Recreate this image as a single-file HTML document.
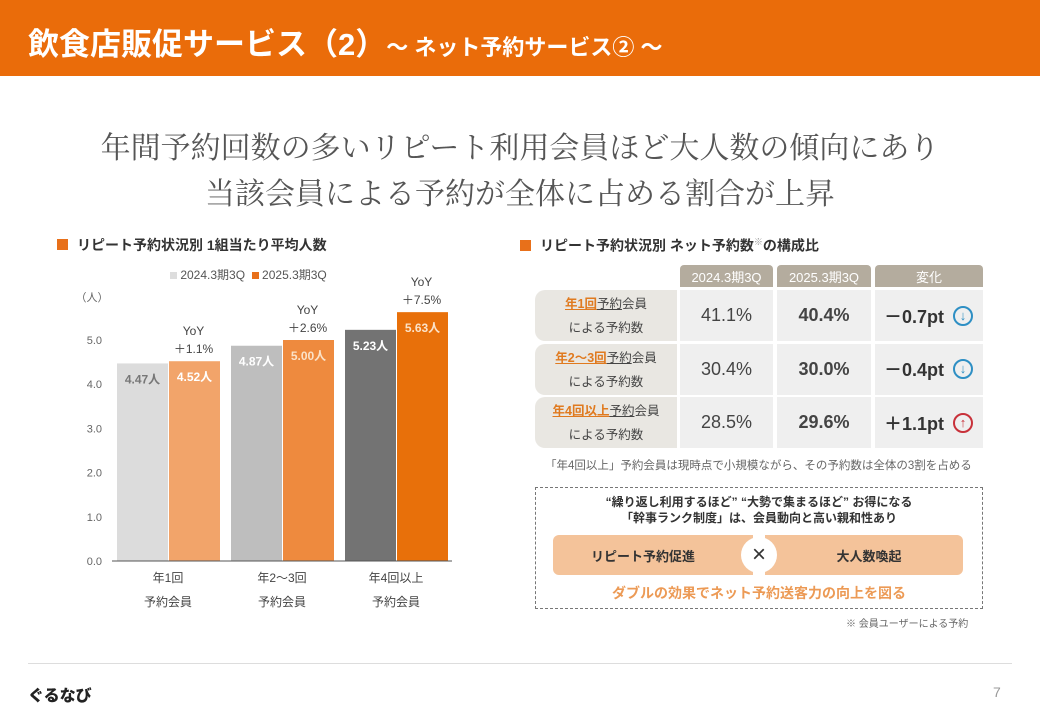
<!DOCTYPE html>
<html><head><meta charset="utf-8">
<style>
*{margin:0;padding:0;box-sizing:border-box}
body{width:1040px;height:720px;overflow:hidden;background:#fff;font-family:"Liberation Sans","Noto Sans CJK JP",sans-serif;position:relative;color:#333}
.a{position:absolute}
.hdr{left:0;top:0;width:1040px;height:76px;background:#EA6C0A}
.cell{position:absolute;background:#EFEFEF;display:flex;align-items:center;justify-content:center;font-size:18px;color:#444}
.th{position:absolute;background:#B4AC9E;color:#fff;font-size:13px;display:flex;align-items:center;justify-content:center;border-radius:4px 4px 0 0}
.lbl{position:absolute;background:#E9E7E2;border-radius:10px 0 0 10px;font-size:12.5px;text-align:center;line-height:24px;color:#444;padding-top:2px}
.lbl u{color:#E07A1F;font-weight:bold}
.lbl b{text-decoration:underline;font-weight:normal}
</style></head><body>
<div class="a hdr"></div>
<div class="a" style="left:28px;top:19px;color:#fff;font-size:31px;font-weight:bold;white-space:nowrap">飲食店販促サービス（2）<span style="font-size:22px">～ ネット予約サービス② ～</span></div>
<div class="a" style="left:0;top:122px;width:1040px;text-align:center;font-family:'Noto Serif CJK SC',serif;font-size:30px;line-height:46px;color:#555">年間予約回数の多いリピート利用会員ほど大人数の傾向にあり<br>当該会員による予約が全体に占める割合が上昇</div>

<div class="a" style="left:57px;top:235px;font-size:14px;font-weight:bold;color:#333"><span style="display:inline-block;width:11px;height:11px;background:#E8701A;margin-right:9px"></span>リピート予約状況別 1組当たり平均人数</div>
<div class="a" style="left:170px;top:266px;font-size:12px;color:#555"><span style="display:inline-block;width:7px;height:7px;background:#ddd"></span> 2024.3期3Q &nbsp;<span style="display:inline-block;width:7px;height:7px;background:#E8701A"></span> 2025.3期3Q</div>
<svg class="a" style="left:0;top:0" width="520" height="660" id="chart"></svg>

<div class="a" style="left:520px;top:235px;font-size:14px;font-weight:bold;color:#333"><span style="display:inline-block;width:11px;height:11px;background:#E8701A;margin-right:9px"></span>リピート予約状況別 ネット予約数<sup style="font-size:9px;color:#999">※</sup>の構成比</div>
<div class="th" style="left:680px;top:265px;width:93px;height:22px">2024.3期3Q</div>
<div class="th" style="left:777px;top:265px;width:94px;height:22px">2025.3期3Q</div>
<div class="th" style="left:875px;top:265px;width:108px;height:22px">変化</div>
<div id="tbl"></div>
<div class="a" style="left:545px;top:457px;font-size:11.5px;color:#666;white-space:nowrap">「年4回以上」予約会員は現時点で小規模ながら、その予約数は全体の3割を占める</div>

<div class="a" style="left:535px;top:487px;width:448px;height:122px;border:1px dashed #777"></div>
<div class="a" style="left:535px;top:494px;width:448px;text-align:center;font-size:12px;font-weight:bold;line-height:16px;color:#333">“繰り返し利用するほど” “大勢で集まるほど” お得になる<br>「幹事ランク制度」は、会員動向と高い親和性あり</div>
<div class="a" style="left:553px;top:535px;width:200px;height:40px;background:#F4C39A;border-radius:6px 0 0 6px;display:flex;align-items:center;justify-content:center;font-size:13px;font-weight:bold;color:#333;padding-right:20px">リピート予約促進</div>
<div class="a" style="left:765px;top:535px;width:198px;height:40px;background:#F4C39A;border-radius:0 6px 6px 0;display:flex;align-items:center;justify-content:center;font-size:13px;font-weight:bold;color:#333;padding-left:10px">大人数喚起</div>
<div class="a" style="left:741px;top:537px;width:36px;height:36px;border-radius:50%;background:#fff;text-align:center;line-height:36px;font-size:24px;color:#333">×</div>
<div class="a" style="left:535px;top:583px;width:448px;text-align:center;font-size:14px;font-weight:bold;color:#EC9A55">ダブルの効果でネット予約送客力の向上を図る</div>
<div class="a" style="left:846px;top:615px;font-size:10px;color:#666">※ 会員ユーザーによる予約</div>

<div class="a" style="left:28px;top:663px;width:984px;height:1px;background:#ddd"></div>
<div class="a" style="left:28px;top:682px;font-size:16px;font-weight:900;color:#222">ぐるなび</div>
<div class="a" style="left:993px;top:684px;font-size:14px;color:#999">7</div>

<script>
const categories=[["年1回","予約会員"],["年2〜3回","予約会員"],["年4回以上","予約会員"]];
const v2024=[4.47,4.87,5.23];
const v2025=[4.52,5.00,5.63];
const yoy=["+1.1%","+2.6%","+7.5%"];
const ticks=[0,1,2,3,4,5];
const c24=["#DCDCDC","#BEBEBE","#737373"],c25=["#F2A46A","#EE8A3E","#E8700A"],t24=["#777","#fff","#fff"],t25=["#fff","#FBE2C8","#FBE2C8"];
const NS="http://www.w3.org/2000/svg",svg=document.getElementById('chart');
const y0=561,unit=44.2,yS=v=>y0-v*unit;
const gx=i=>117+i*114, bw=51;
function mk(t,at,txt){const e=document.createElementNS(NS,t);for(const k in at)e.setAttribute(k,at[k]);if(txt!=null)e.textContent=txt;svg.appendChild(e);return e;}
ticks.forEach(t=>{const e=mk('text',{x:102,y:yS(t)+4,'text-anchor':'end','font-size':11,fill:'#666'},t.toFixed(1));

});
const u=mk('text',{x:92,y:301,'text-anchor':'middle','font-size':11,fill:'#666'},'（人）');


categories.forEach((c,i)=>{
 const x=gx(i);
 const r1=mk('rect',{x:x,y:yS(v2024[i]),width:bw,height:v2024[i]*unit,fill:c24[i]});
 
 
 const r2=mk('rect',{x:x+bw+1,y:yS(v2025[i]),width:bw,height:v2025[i]*unit,fill:c25[i]});
 
 
 const l1=mk('text',{x:x+bw/2,y:yS(v2024[i])+20,'text-anchor':'middle','font-size':12,'font-weight':'bold',fill:t24[i]},v2024[i].toFixed(2)+'人');
 
 
 const l2=mk('text',{x:x+bw*1.5+1,y:yS(v2025[i])+20,'text-anchor':'middle','font-size':12,'font-weight':'bold',fill:t25[i]},v2025[i].toFixed(2)+'人');
 
 
 const ya=mk('text',{x:x+bw*1.5,y:yS(v2025[i])-26,'text-anchor':'middle','font-size':12,fill:'#444'},'YoY');
 
 
 const yb=mk('text',{x:x+bw*1.5,y:yS(v2025[i])-8,'text-anchor':'middle','font-size':12,fill:'#444'},yoy[i].replace('+','＋'));
 
 
 c.forEach((s,j)=>{const t=mk('text',{x:x+bw,y:582+j*24,'text-anchor':'middle','font-size':12,fill:'#444'},s);
 
 });
});
const ax=mk('line',{x1:112,x2:452,y1:y0,y2:y0,stroke:'#555','stroke-width':1});



const rows=[['<u>年1回</u><b>予約</b>会員','41.1%','40.4%','－0.7pt',0],['<u>年2～3回</u><b>予約</b>会員','30.4%','30.0%','－0.4pt',0],['<u>年4回以上</u><b>予約</b>会員','28.5%','29.6%','＋1.1pt',1]];
const tb=document.getElementById('tbl');
rows.forEach((r,i)=>{const y=290+i*53.5;
 tb.insertAdjacentHTML('beforeend',
 `<div class="lbl" style="left:535px;top:${y}px;width:142px;height:51px">${r[0]}<br>による予約数</div>
 <div class="cell" style="left:680px;top:${y}px;width:93px;height:51px">${r[1]}</div>
 <div class="cell" style="left:777px;top:${y}px;width:94px;height:51px;font-weight:bold">${r[2]}</div>
 <div class="cell" style="left:875px;top:${y}px;width:108px;height:51px;font-weight:bold;color:#333;justify-content:flex-start;padding-left:9px">${r[3]}<span style="margin-left:9px;display:inline-block;width:20px;height:20px;border:2px solid ${r[4]?'#C8313A':'#2E8FC4'};border-radius:50%;color:${r[4]?'#C8313A':'#2E8FC4'};font-size:13px;line-height:16px;text-align:center">${r[4]?'↑':'↓'}</span></div>`);});
</script>
</body></html>
